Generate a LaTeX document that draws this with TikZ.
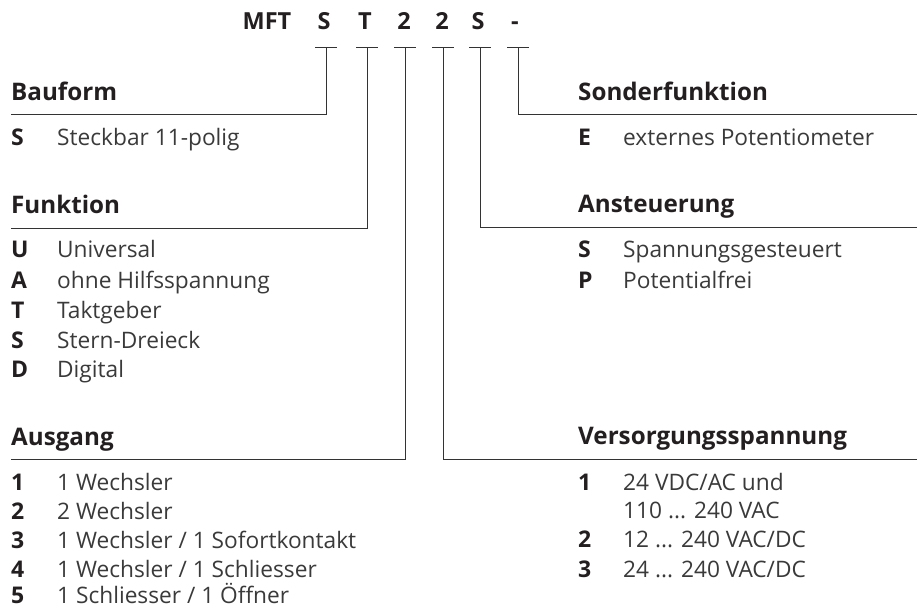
\documentclass[tikz,border=0pt]{standalone}
\usepackage{fontspec}
\setmainfont{Open Sans}
\definecolor{txt}{HTML}{231F20}
\definecolor{txtl}{HTML}{3A3A3A}
\definecolor{linec}{HTML}{333333}
\begin{document}
\begin{tikzpicture}[x=1pt,y=-1pt,
  hd/.style={anchor=base west, inner sep=0pt, text=txt, font=\fontsize{24.2}{25}\selectfont\bfseries},
  key/.style={anchor=base west, inner sep=0pt, text=txt, font=\fontsize{23}{24}\selectfont\bfseries},
  desc/.style={anchor=base west, inner sep=0pt, text=txtl, font=\fontsize{22.7}{24}\selectfont},
  code/.style={anchor=base, inner sep=0pt, text=txt, font=\fontsize{23.5}{24}\selectfont\bfseries},
  ln/.style={line width=1pt, draw=linec}]
\useasboundingbox (0,0) rectangle (917,609);
% code line
\node[code] (mft) at (267,30) {MFT};
\node[code] (c1) at (324,30) {S};
\node[code] (c2) at (365,30) {T};
\node[code] (c3) at (404,30) {2};
\node[code] (c4) at (442,30) {2};
\node[code] (c5) at (478,30) {S};
\node[code] (c6) at (515,30) {-};
% tick coordinates
\coordinate (t1) at (326,48); \coordinate (t2) at (367,48); \coordinate (t3) at (405,48);
\coordinate (t4) at (443,48); \coordinate (t5) at (480,48); \coordinate (t6) at (518,48);
\foreach \t in {t1,t2,t3,t4,t5,t6}{\draw[ln] ([xshift=-11pt]\t) -- ([xshift=11pt]\t);}
% underline end points
\coordinate (b1) at (11,115); \coordinate (b2) at (11,229); \coordinate (b3) at (11,459);
\coordinate (b6) at (917,115); \coordinate (b5) at (917,228); \coordinate (b4) at (917,459);
\draw[ln] (t1) |- (b1);
\draw[ln] (t2) |- (b2);
\draw[ln] (t3) |- (b3);
\draw[ln] (t4) |- (b4);
\draw[ln] (t5) |- (b5);
\draw[ln] (t6) |- (b6);
% left column
\node[hd] (h1) at (11,101) {Bauform};
\node[key] (k11) at (11,146) {S}; \node[desc] (d11) at (57,146) {Steckbar 11-polig};
\node[hd] (h2) at (11,214) {Funktion};
\node[key] (k21) at (11,258) {U}; \node[desc] (d21) at (57,258) {Universal};
\node[key] (k22) at (11,288) {A}; \node[desc] (d22) at (57,288) {ohne Hilfsspannung};
\node[key] (k23) at (11,318) {T}; \node[desc] (d23) at (57,318) {Taktgeber};
\node[key] (k24) at (11,348) {S}; \node[desc] (d24) at (57,348) {Stern-Dreieck};
\node[key] (k25) at (11,377) {D}; \node[desc] (d25) at (57,377) {Digital};
\node[hd] (h3) at (11,445) {Ausgang};
\node[key] (k31) at (11,490) {1}; \node[desc] (d31) at (57,490) {1 Wechsler};
\node[key] (k32) at (11,519) {2}; \node[desc] (d32) at (57,519) {2 Wechsler};
\node[key] (k33) at (11,548) {3}; \node[desc] (d33) at (57,548) {1 Wechsler / 1 Sofortkontakt};
\node[key] (k34) at (11,577) {4}; \node[desc] (d34) at (57,577) {1 Wechsler / 1 Schliesser};
\node[key] (k35) at (11,603) {5}; \node[desc] (d35) at (57,603) {1 Schliesser / 1 Öffner};
% right column
\node[hd] (h6) at (578,101) {Sonderfunktion};
\node[key] (k61) at (578,146) {E}; \node[desc] (d61) at (623,146) {externes Potentiometer};
\node[hd] (h5) at (578,213) {Ansteuerung};
\node[key] (k51) at (578,258) {S}; \node[desc] (d51) at (623,258) {Spannungsgesteuert};
\node[key] (k52) at (578,288) {P}; \node[desc] (d52) at (623,288) {Potentialfrei};
\node[hd] (h4) at (578,444) {Versorgungsspannung};
\node[key] (k41) at (578,490) {1}; \node[desc] (d41) at (623,490) {24 VDC/AC und};
\node[desc] (d41b) at (623,518) {110 ... 240 VAC};
\node[key] (k42) at (578,547) {2}; \node[desc] (d42) at (623,547) {12 ... 240 VAC/DC};
\node[key] (k43) at (578,577) {3}; \node[desc] (d43) at (623,577) {24 ... 240 VAC/DC};
\end{tikzpicture}
\end{document}
